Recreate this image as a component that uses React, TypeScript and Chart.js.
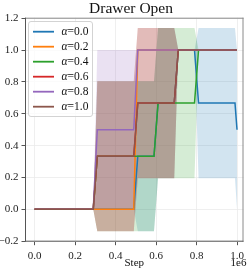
import React, { useEffect, useRef } from 'react';
import { Chart, registerables } from 'chart.js';

Chart.register(...registerables);

// x positions in units of 1e6 steps
const steps = [0, 0.29, 0.31, 0.49, 0.51, 0.59, 0.61, 0.69, 0.71, 0.79, 0.81, 0.99, 1.0];

const seriesLabels = ['0.0', '0.2', '0.4', '0.6', '0.8', '1.0'];
const seriesColors = ['#1f77b4', '#ff7f0e', '#2ca02c', '#d62728', '#9467bd', '#8c564b'];

const meanA00 = [0, 0, 0, 0, 0.333, 0.333, 0.667, 0.667, 1, 1, 0.667, 0.667, 0.5];
const stdA00 = [0, 0, 0, 0, 0.471, 0.471, 0.471, 0.471, 0, 0, 0.471, 0.471, 0.5];
const meanA02 = [0, 0, 0, 0, 1, 1, 1, 1, 1, 1, 1, 1, 1];
const stdA02 = [0, 0, 0, 0, 0, 0, 0, 0, 0, 0, 0, 0, 0];
const meanA04 = [0, 0, 0.333, 0.333, 0.333, 0.333, 0.667, 0.667, 0.667, 0.667, 1, 1, 1];
const stdA04 = [0, 0, 0.471, 0.471, 0.471, 0.471, 0.471, 0.471, 0.471, 0.471, 0, 0, 0];
const meanA06 = [0, 0, 0.333, 0.333, 0.667, 0.667, 0.667, 0.667, 1, 1, 1, 1, 1];
const stdA06 = [0, 0, 0.471, 0.471, 0.471, 0.471, 0.471, 0.471, 0, 0, 0, 0, 0];
const meanA08 = [0, 0, 0.5, 0.5, 1, 1, 1, 1, 1, 1, 1, 1, 1];
const stdA08 = [0, 0, 0.5, 0.5, 0, 0, 0, 0, 0, 0, 0, 0, 0];
const meanA10 = [0, 0, 0.333, 0.333, 0.667, 0.667, 0.667, 0.667, 1, 1, 1, 1, 1];
const stdA10 = [0, 0, 0.471, 0.471, 0.471, 0.471, 0.471, 0.471, 0, 0, 0, 0, 0];

const means = [meanA00, meanA02, meanA04, meanA06, meanA08, meanA10];
const stds = [stdA00, stdA02, stdA04, stdA06, stdA08, stdA10];

const xTicks = [0, 0.2, 0.4, 0.6, 0.8, 1.0];
const yTicks = [-0.2, 0, 0.2, 0.4, 0.6, 0.8, 1.0, 1.2];

const titleText = 'Drawer Open';
const xLabel = 'Step';
const offsetText = '1e6';

const FONT = '"Liberation Serif", "DejaVu Serif", serif';

function rgba(hex: string, a: number) {
  const r = parseInt(hex.slice(1, 3), 16);
  const g = parseInt(hex.slice(3, 5), 16);
  const b = parseInt(hex.slice(5, 7), 16);
  return `rgba(${r},${g},${b},${a})`;
}

function fmt(v: number) {
  const s = Math.abs(v).toFixed(1);
  return v < -1e-9 ? '\u2212' + s : s;
}

const decor = {
  id: 'decor',
  afterDraw(chart: any) {
    const { ctx, chartArea: a } = chart;
    ctx.save();
    // spines
    ctx.lineWidth = 1;
    ctx.strokeStyle = '#8a8a8a';
    ctx.beginPath();
    ctx.moveTo(a.left, a.top + 0.5);
    ctx.lineTo(a.right, a.top + 0.5);
    ctx.moveTo(a.right - 0.5, a.top);
    ctx.lineTo(a.right - 0.5, a.bottom);
    ctx.stroke();
    ctx.strokeStyle = '#555';
    ctx.beginPath();
    ctx.moveTo(a.left + 0.5, a.top);
    ctx.lineTo(a.left + 0.5, a.bottom);
    ctx.moveTo(a.left, a.bottom - 0.5);
    ctx.lineTo(a.right, a.bottom - 0.5);
    ctx.stroke();

    // title
    ctx.fillStyle = '#111';
    ctx.font = `15.5px ${FONT}`;
    ctx.textAlign = 'center';
    ctx.textBaseline = 'alphabetic';
    ctx.fillText(titleText, 131, 12.8);

    // x label
    ctx.font = `11px ${FONT}`;
    ctx.fillText(xLabel, (a.left + a.right) / 2, 266);
    ctx.textAlign = 'right';
    ctx.fillText(offsetText, 246.5, 266);

    // legend
    const bx = 28, by = 21, bw = 64, bh = 95;
    ctx.fillStyle = 'rgba(255,255,255,0.8)';
    ctx.strokeStyle = '#d3d3d3';
    ctx.lineWidth = 1;
    ctx.beginPath();
    (ctx as any).roundRect(bx + 0.5, by + 0.5, bw, bh, 2.5);
    ctx.fill();
    ctx.stroke();
    ctx.textAlign = 'left';
    ctx.textBaseline = 'middle';
    for (let i = 0; i < seriesLabels.length; i++) {
      const y = 31.7 + i * 15;
      ctx.strokeStyle = seriesColors[i];
      ctx.lineWidth = 1.8;
      ctx.beginPath();
      ctx.moveTo(33, y);
      ctx.lineTo(54, y);
      ctx.stroke();
      ctx.fillStyle = '#111';
      ctx.font = `italic 11.5px ${FONT}`;
      ctx.fillText('\u03b1', 61.5, y);
      const w = ctx.measureText('\u03b1').width;
      ctx.font = `11.5px ${FONT}`;
      ctx.fillText('=' + seriesLabels[i], 61.5 + w, y);
    }
    ctx.restore();
  },
};

export default function App() {
  const ref = useRef<HTMLCanvasElement>(null);
  useEffect(() => {
    const canvas = ref.current;
    if (!canvas) return;
    const datasets: any[] = [];
    // bands: lower + upper (filled between)
    for (let i = 0; i < means.length; i++) {
      const lowerIndex = datasets.length;
      datasets.push({
        data: steps.map((x, j) => ({ x, y: means[i][j] - stds[i][j] })),
        borderWidth: 0,
        borderColor: 'rgba(0,0,0,0)',
        pointRadius: 0,
        fill: false,
        order: 60,
      });
      datasets.push({
        data: steps.map((x, j) => ({ x, y: means[i][j] + stds[i][j] })),
        borderWidth: 0,
        borderColor: 'rgba(0,0,0,0)',
        backgroundColor: rgba(seriesColors[i], 0.2),
        pointRadius: 0,
        fill: lowerIndex,
        order: 50 - i,
      });
    }
    for (let i = 0; i < means.length; i++) {
      datasets.push({
        data: steps.map((x, j) => ({ x, y: means[i][j] })),
        borderColor: seriesColors[i],
        borderWidth: 1.5,
        pointRadius: 0,
        fill: false,
        order: 5 - i,
      });
    }
    const chart = new Chart(canvas, {
      type: 'line',
      data: { datasets },
      options: {
        animation: false,
        responsive: false,
        maintainAspectRatio: false,
        events: [],
        layout: { padding: { top: 17.7, right: 5.5, left: 0, bottom: 0 } },
        elements: { line: { tension: 0, borderCapStyle: 'butt', borderJoinStyle: 'miter' }, point: { radius: 0 } },
        plugins: {
          legend: { display: false },
          title: { display: false },
          tooltip: { enabled: false },
          filler: { drawTime: 'beforeDatasetsDraw', propagate: false },
        } as any,
        scales: {
          x: {
            type: 'linear',
            min: -0.047,
            max: 1.032,
            afterFit: (s: any) => { s.height = 271 - 241.7; },
            afterBuildTicks: (s: any) => { s.ticks = xTicks.map((v) => ({ value: v })); },
            border: { display: false },
            grid: { color: '#ebebeb', lineWidth: 0.8, drawTicks: true, tickLength: 3.5, tickColor: '#555', tickWidth: 1 },
            ticks: { callback: (v: any) => fmt(Number(v)), color: '#222', font: { family: FONT, size: 11 }, padding: 4.5, maxRotation: 0, autoSkip: false },
          },
          y: {
            type: 'linear',
            min: -0.203,
            max: 1.203,
            afterFit: (s: any) => { s.width = 25; },
            afterBuildTicks: (s: any) => { s.ticks = yTicks.map((v) => ({ value: v })); },
            border: { display: false },
            grid: { color: '#ebebeb', lineWidth: 0.8, drawTicks: true, tickLength: 3.5, tickColor: '#555', tickWidth: 1 },
            ticks: { callback: (v: any) => fmt(Number(v)), color: '#222', font: { family: FONT, size: 11 }, padding: 3, autoSkip: false },
          },
        },
      } as any,
      plugins: [decor],
    });
    return () => chart.destroy();
  }, []);
  return (
    <div style={{ position: 'fixed', left: 0, top: 0, width: 249, height: 271, background: '#fff' }}>
      <canvas ref={ref} width={249} height={271} style={{ display: 'block', width: 249, height: 271 }} />
    </div>
  );
}
